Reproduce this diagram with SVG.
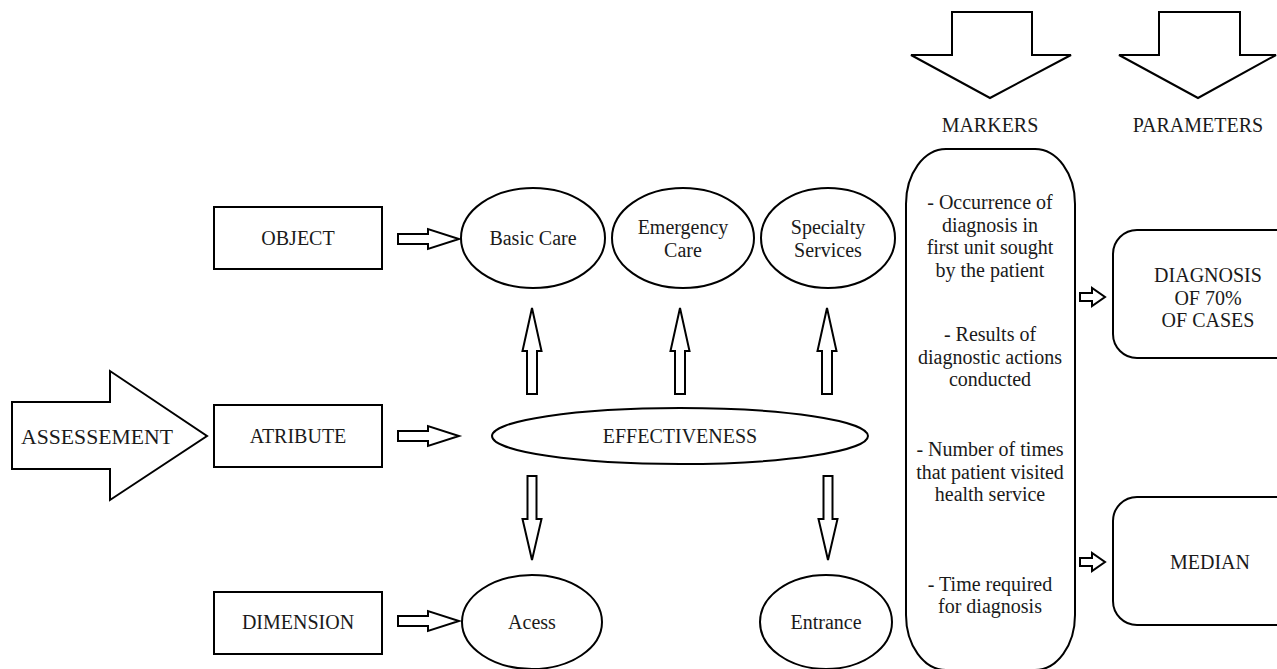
<svg xmlns="http://www.w3.org/2000/svg" xmlns:xlink="http://www.w3.org/1999/xlink" width="1277" height="669" viewBox="0 0 1277 669">
<style>
.s{fill:#fff;stroke:#000;stroke-width:2}
.t{font-family:'Liberation Serif','Times New Roman','DejaVu Serif',serif;font-size:20px;fill:#1a1a1a;text-anchor:middle}
</style>
<defs>
<path id="ra" d="M0,-5 H30 V-10 L61,0 L30,10 V5 H0 Z"/>
<path id="ua" d="M0,0 L9.5,43 H5 V86 H-5 V43 H-9.5 Z"/>
<path id="da" d="M-4.5,0 H4.5 V43 H9.5 L0,84 L-9.5,43 H-4.5 Z"/>
<path id="sa" d="M0,-4 H12 V-9 L25,0 L12,9 V4 H0 Z"/>
</defs>
<rect width="1277" height="669" fill="#fff"/>

<g id="assessement">
<path class="s" d="M12,402 H110 V371 L207,436 L110,500 V469 H12 Z"/>
<text class="t" x="97" y="444" style="font-size:21.7px">ASSESSEMENT</text>
</g>
<g id="object">
<rect class="s" x="214" y="207" width="168" height="62"/>
<text class="t" x="298" y="245">OBJECT</text>
</g>
<g id="atribute">
<rect class="s" x="214" y="405" width="168" height="62"/>
<text class="t" x="298" y="443">ATRIBUTE</text>
</g>
<g id="dimension">
<rect class="s" x="214" y="592" width="168" height="62"/>
<text class="t" x="298" y="629">DIMENSION</text>
</g>
<g id="basic-care">
<ellipse class="s" cx="533" cy="238" rx="72" ry="50"/>
<text class="t" x="533" y="245">Basic Care</text>
</g>
<g id="emergency-care">
<ellipse class="s" cx="683" cy="238" rx="71" ry="50"/>
<text class="t" x="683" y="234">Emergency</text>
<text class="t" x="683" y="257">Care</text>
</g>
<g id="specialty-services">
<ellipse class="s" cx="828" cy="238" rx="67" ry="50"/>
<text class="t" x="828" y="234">Specialty</text>
<text class="t" x="828" y="257">Services</text>
</g>
<g id="effectiveness">
<ellipse class="s" cx="680" cy="436" rx="188" ry="28"/>
<text class="t" x="680" y="443">EFFECTIVENESS</text>
</g>
<g id="acess">
<ellipse class="s" cx="532" cy="622" rx="70" ry="47"/>
<text class="t" x="532" y="629">Acess</text>
</g>
<g id="entrance">
<ellipse class="s" cx="826" cy="622" rx="66" ry="47"/>
<text class="t" x="826" y="629">Entrance</text>
</g>
<g id="markers-head">
<path class="s" d="M952,12 H1032 V55 H1071 L990,98 L911,55 H952 Z"/>
<text class="t" x="990" y="132">MARKERS</text>
</g>
<g id="parameters-head">
<path class="s" d="M1159,12 H1240 V55 H1276 L1198,98 L1119,55 H1159 Z"/>
<text class="t" x="1198" y="132">PARAMETERS</text>
</g>
<g id="markers">
<rect class="s" x="906" y="149" width="169" height="521" rx="40" ry="55"/>
<text class="t" x="990" y="209">- Occurrence of</text>
<text class="t" x="990" y="232">diagnosis in</text>
<text class="t" x="990" y="254">first unit sought</text>
<text class="t" x="990" y="277">by the patient</text>
<text class="t" x="990" y="341">- Results of</text>
<text class="t" x="990" y="364">diagnostic actions</text>
<text class="t" x="990" y="386">conducted</text>
<text class="t" x="990" y="456">- Number of times</text>
<text class="t" x="990" y="479">that patient visited</text>
<text class="t" x="990" y="501">health service</text>
<text class="t" x="990" y="591">- Time required</text>
<text class="t" x="990" y="613">for diagnosis</text>
</g>
<g id="diagnosis">
<rect class="s" x="1113" y="230" width="200" height="128" rx="24" ry="24"/>
<text class="t" x="1208" y="282">DIAGNOSIS</text>
<text class="t" x="1208" y="305">OF 70%</text>
<text class="t" x="1208" y="327">OF CASES</text>
</g>
<g id="median">
<rect class="s" x="1113" y="497" width="200" height="128" rx="24" ry="24"/>
<text class="t" x="1210" y="569">MEDIAN</text>
</g>

<g id="connectors" class="s">
<use xlink:href="#ra" x="398" y="239"/>
<use xlink:href="#ra" x="398" y="436"/>
<use xlink:href="#ra" x="398" y="621"/>
<use xlink:href="#ua" x="532" y="308"/>
<use xlink:href="#ua" x="680" y="308"/>
<use xlink:href="#ua" x="827" y="308"/>
<use xlink:href="#da" x="532" y="476"/>
<use xlink:href="#da" x="828" y="476"/>
<use xlink:href="#sa" x="1080" y="297"/>
<use xlink:href="#sa" x="1080" y="562"/>
</g>
</svg>
